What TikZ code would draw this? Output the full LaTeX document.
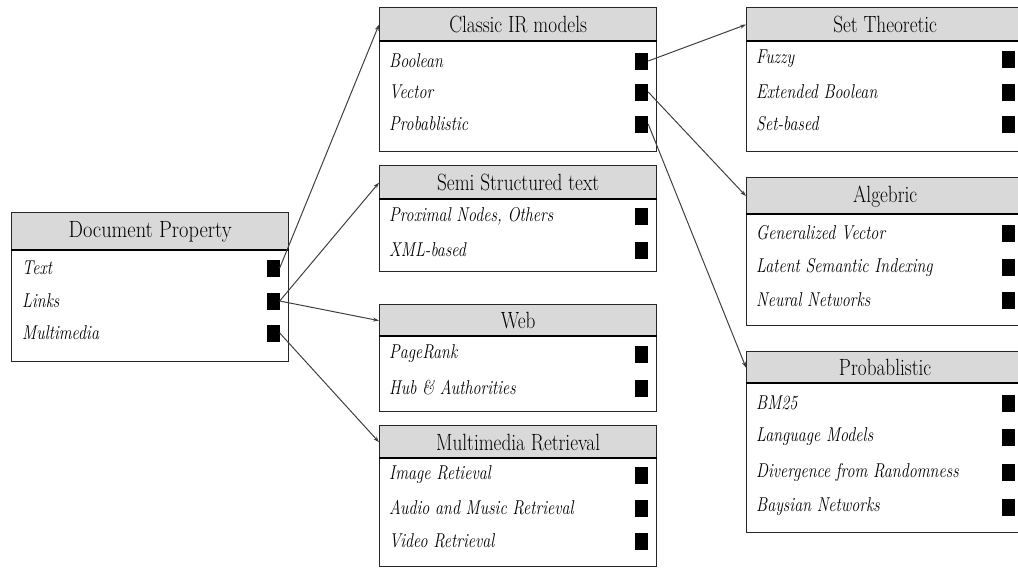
\documentclass[tikz,border=0pt]{standalone}
\usepackage{graphicx}
\usetikzlibrary{arrows.meta}
\newcommand\hx[2][0.82]{\scalebox{#1}[1]{#2}}
\newcommand\ix[1]{\scalebox{0.805}[1]{#1}}
\tikzset{
  hdr/.style={draw=black!85, line width=1.3pt, fill=black!15, inner sep=0pt, anchor=north west, minimum width=277pt, font=\fontsize{23.5}{27}\selectfont},
  body/.style={draw=black!85, line width=1.3pt, fill=white, inner sep=0pt, anchor=north west, minimum width=277pt},
  hline/.style={draw=black, line width=2.6pt},
  item/.style={anchor=west, inner sep=0pt, font=\fontsize{20}{24}\selectfont\itshape},
  sq/.style={fill=black, draw=none, minimum width=13pt, minimum height=17pt, inner sep=0pt},
  conn/.style={draw=black!75, line width=1pt, -{Stealth[length=6pt,width=4pt]}}
}
\newcommand\itemrow[5]{\node[item] (#1) at (#2,#4) {\ix{#5}}; \node[sq] (#1s) at (#3,#4) {};}
\begin{document}
\begin{tikzpicture}[x=1pt,y=-1pt]
\useasboundingbox (0,0) rectangle (1018,568);
\clip (0,0) rectangle (1018,568);
% Document Property
\node[hdr, minimum height=38pt] (dp) at (11,212) {\hx[0.87]{Document Property}};
\node[body, minimum height=111pt] (dpb) at (11,250) {};
\draw[hline] (dpb.north west) -- (dpb.north east);
\itemrow{dp1}{22}{273}{268}{Text}
\itemrow{dp2}{22}{273}{301}{Links}
\itemrow{dp3}{22}{273}{333}{Multimedia}
% Classic IR models
\node[hdr, minimum height=34pt] (cir) at (379,7) {\hx{Classic IR models}};
\node[body, minimum height=110pt] (cirb) at (379,41) {};
\draw[hline] (cirb.north west) -- (cirb.north east);
\itemrow{cir1}{389}{641.5}{61}{Boolean}
\itemrow{cir2}{389}{641.5}{92}{Vector}
\itemrow{cir3}{389}{641.5}{124}{Probablistic}
% Semi Structured text
\node[hdr, minimum height=34pt] (sst) at (379,165) {\hx{Semi Structured text}};
\node[body, minimum height=72pt] (sstb) at (379,199) {};
\draw[hline] (sstb.north west) -- (sstb.north east);
\itemrow{sst1}{389}{641.5}{216}{Proximal Nodes, Others}
\itemrow{sst2}{389}{641.5}{250}{XML-based}
% Web
\node[hdr, minimum height=32pt] (web) at (379,304) {\hx{Web}};
\node[body, minimum height=75pt] (webb) at (379,336) {};
\draw[hline] (webb.north west) -- (webb.north east);
\itemrow{web1}{389}{641.5}{354}{PageRank}
\itemrow{web2}{389}{641.5}{388}{Hub \& Authorities}
% Multimedia Retrieval
\node[hdr, minimum height=33pt] (mmr) at (379,425) {\hx{Multimedia Retrieval}};
\node[body, minimum height=108pt] (mmrb) at (379,458) {};
\draw[hline] (mmrb.north west) -- (mmrb.north east);
\itemrow{mmr1}{389}{641.5}{475}{Image Retieval}
\itemrow{mmr2}{389}{641.5}{508}{Audio and Music Retrieval}
\itemrow{mmr3}{389}{641.5}{541}{Video Retrieval}
% Set Theoretic
\node[hdr, minimum height=34pt] (st) at (746,7) {\hx{Set Theoretic}};
\node[body, minimum height=110pt] (stb) at (746,41) {};
\draw[hline] (stb.north west) -- (stb.north east);
\itemrow{st1}{756}{1008.5}{59}{Fuzzy}
\itemrow{st2}{756}{1008.5}{92}{Extended Boolean}
\itemrow{st3}{756}{1008.5}{124}{Set-based}
% Algebric
\node[hdr, minimum height=37pt] (alg) at (746,177) {\hx{Algebric}};
\node[body, minimum height=111pt] (algb) at (746,214) {};
\draw[hline] (algb.north west) -- (algb.north east);
\itemrow{alg1}{756}{1008.5}{233}{Generalized Vector}
\itemrow{alg2}{756}{1008.5}{267}{Latent Semantic Indexing}
\itemrow{alg3}{756}{1008.5}{300}{Neural Networks}
% Probablistic
\node[hdr, minimum height=32pt] (prob) at (746,351) {\hx{Probablistic}};
\node[body, minimum height=149pt] (probb) at (746,383) {};
\draw[hline] (probb.north west) -- (probb.north east);
\itemrow{pr1}{756}{1008.5}{403}{BM25}
\itemrow{pr2}{756}{1008.5}{437}{Language Models}
\itemrow{pr3}{756}{1008.5}{472}{Divergence from Randomness}
\itemrow{pr4}{756}{1008.5}{507}{Baysian Networks}
% connectors
\draw[conn] (dp1s.east) -- (cir.west);
\draw[conn] (dp2s.east) -- (sst.west);
\draw[conn] (dp2s.east) -- (web.west);
\draw[conn] (dp3s.east) -- (mmr.west);
\draw[conn] (cir1s.east) -- (st.west);
\draw[conn] (cir2s.east) -- (alg.west);
\draw[conn] (cir3s.east) -- (prob.west);
\end{tikzpicture}
\end{document}
